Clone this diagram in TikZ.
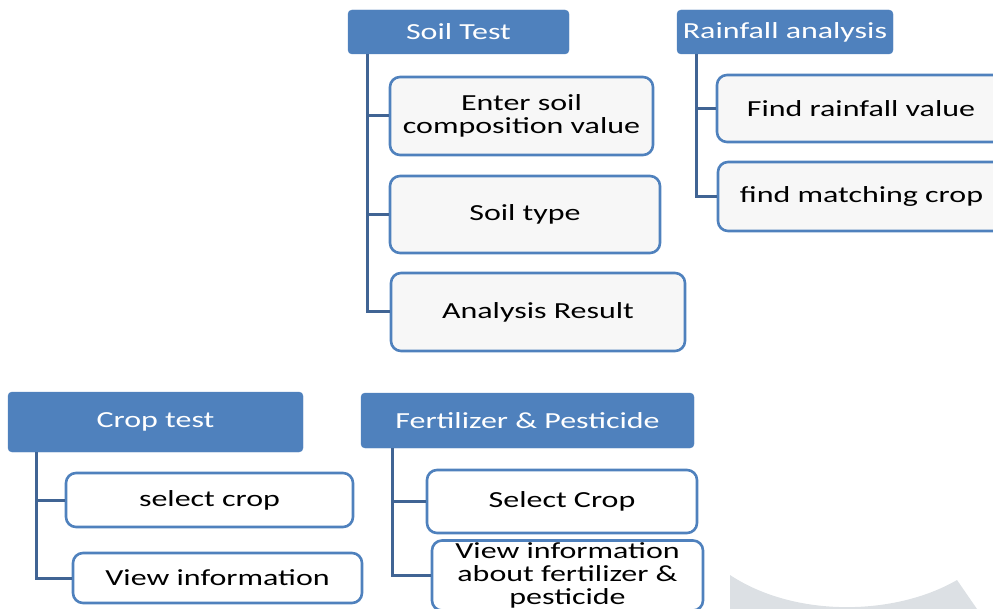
\documentclass[tikz,border=0pt]{standalone}
\usepackage{fontspec}
\setmainfont{Carlito}[FakeStretch=1.39]
\usepackage{tikz}
\definecolor{headblue}{RGB}{79,129,189}
\definecolor{linkblue}{RGB}{64,100,148}
\definecolor{wmgray}{RGB}{220,224,228}

\begin{document}
\begin{tikzpicture}[x=1pt,y=-1pt,
  head/.style={rectangle,rounded corners=4pt,fill=headblue,draw=headblue,text=white,
    font=\fontsize{23}{24}\selectfont,inner sep=0pt},
  item/.style={rectangle,rounded corners=10pt,draw=headblue,line width=2.6pt,fill=black!3,
    align=center,font=\fontsize{23}{23}\selectfont,inner sep=0pt},
  link/.style={draw=linkblue,line width=3pt}]
\useasboundingbox (0,0) rectangle (993,609);
\clip (0,0) rectangle (993,609);

\fill[wmgray] (730,575) .. controls (795,618) and (895,616) .. (957,580) -- (977,609) -- (730,609) -- cycle;

\node[head,minimum width=221pt,minimum height=44pt] (soil) at (458.5,32) {Soil Test};
\node[item,minimum width=263pt,minimum height=78pt] (soilA) at (521.5,116) {Enter soil\\composition value};
\node[item,minimum width=270pt,minimum height=77pt] (soilB) at (525,214.5) {Soil type};
\node[item,minimum width=294pt,minimum height=78pt] (soilC) at (538,312) {Analysis Result};
\draw[link] ([xshift=20pt]soil.south west) |- (soilA.west);
\draw[link] ([xshift=20pt]soil.south west) |- (soilB.west);
\draw[link] ([xshift=20pt]soil.south west) |- (soilC.west);

\node[head,minimum width=216pt,minimum height=44pt] (rain) at (785,32) {Rainfall analysis};
\node[item,minimum width=288pt,minimum height=67pt] (rainA) at (861,108.5) {Find rainfall value};
\node[item,minimum width=287pt,minimum height=69pt] (rainB) at (861.5,196.5) {find matching crop};
\draw[link] ([xshift=20pt]rain.south west) |- (rainA.west);
\draw[link] ([xshift=20pt]rain.south west) |- (rainB.west);

\node[head,minimum width=295pt,minimum height=60pt] (crop) at (155.5,422) {Crop test};
\node[item,fill=white,minimum width=287pt,minimum height=54pt] (cropA) at (209.5,500) {select crop};
\node[item,fill=white,minimum width=289pt,minimum height=50pt] (cropB) at (217.5,578) {View information};
\draw[link] ([xshift=29pt]crop.south west) |- (cropA.west);
\draw[link] ([xshift=29pt]crop.south west) |- (cropB.west);

\node[head,minimum width=333pt,minimum height=55pt] (fert) at (527.5,420.5) {Fertilizer \& Pesticide};
\node[item,fill=white,minimum width=270pt,minimum height=63pt] (fertA) at (562,501.5) {Select Crop};
\node[item,fill=white,minimum width=271pt,minimum height=70pt] (fertB) at (567.5,575.5) {View information\\about fertilizer \&\\pesticide};
\draw[link] ([xshift=32pt]fert.south west) |- (fertA.west);
\draw[link] ([xshift=32pt]fert.south west) |- (fertB.west);
\end{tikzpicture}
\end{document}
